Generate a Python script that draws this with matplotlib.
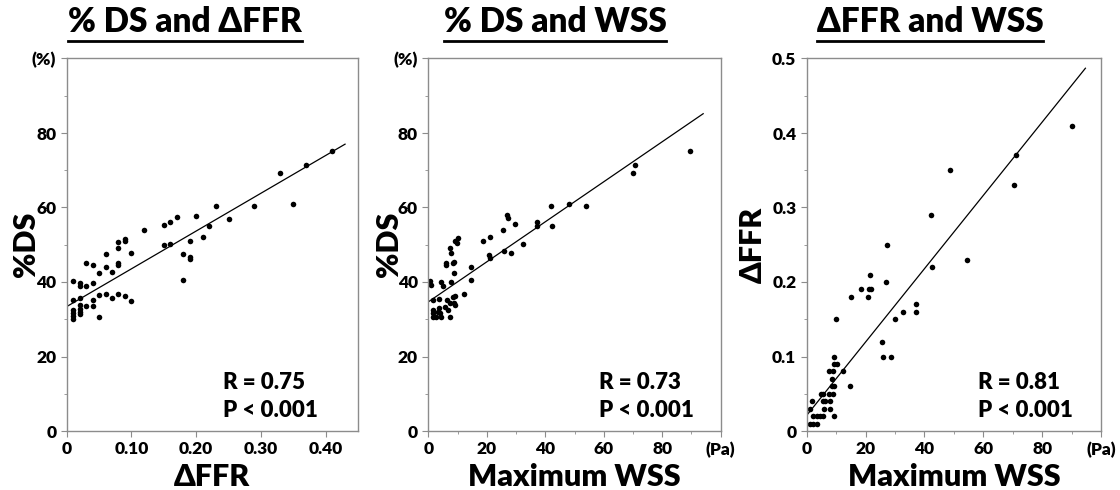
import matplotlib
matplotlib.use("Agg")
import matplotlib.pyplot as plt
from matplotlib.lines import Line2D
import numpy as np

plt.rcParams['font.family'] = ['Lato', 'DejaVu Sans']
plt.rcParams['font.weight'] = 'heavy'
plt.rcParams['axes.labelweight'] = 'heavy'

# panel 1: %DS vs dFFR
p1_dffr = [0.01, 0.01, 0.01, 0.01, 0.01, 0.01,
           0.02, 0.02, 0.02, 0.02, 0.02, 0.02, 0.02,
           0.03, 0.03, 0.03, 0.04, 0.04, 0.04, 0.04,
           0.05, 0.05, 0.05, 0.06, 0.06, 0.06, 0.07, 0.07,
           0.08, 0.08, 0.08, 0.08, 0.08, 0.09, 0.09, 0.09, 0.10, 0.10,
           0.12, 0.15, 0.15, 0.16, 0.16, 0.17, 0.18, 0.18,
           0.19, 0.19, 0.19, 0.20, 0.21, 0.22, 0.23, 0.25,
           0.29, 0.33, 0.35, 0.37, 0.41]
p1_ds = [40.3, 35.2, 32.4, 31.6, 30.8, 30.1,
         39.6, 39.0, 35.6, 33.8, 32.7, 31.9, 31.3,
         45.2, 38.8, 33.5, 44.6, 39.6, 35.3, 33.5,
         42.5, 36.5, 30.5, 47.5, 44.1, 36.8, 42.6, 35.6,
         50.8, 49.0, 45.2, 44.6, 36.8, 51.6, 51.0, 36.2, 47.9, 34.9,
         54.0, 55.4, 50.0, 56.0, 50.2, 57.4, 47.4, 40.5,
         51.0, 46.6, 46.1, 57.8, 52.0, 55.0, 60.3, 57.0,
         60.5, 69.2, 60.9, 71.5, 75.2]

# panel 2: %DS vs maximum WSS
p2_wss = [0.5, 1.0, 1.7, 3.5, 4.3, 5.1,
          1.7, 1.7, 1.7, 2.6, 3.2, 3.5, 4.0, 4.3,
          5.8, 6.0, 6.0, 6.2, 6.6, 7.5, 7.5, 7.7, 7.4, 7.7,
          8.3, 8.6, 8.6, 8.3, 8.6, 9.2, 9.2, 9.2, 10.0, 9.7,
          12.3, 14.6, 14.6, 18.5, 21.2, 20.8, 21.2,
          25.4, 25.7, 26.8, 27.2, 28.3, 29.7, 32.2,
          37.0, 37.0, 42.0, 42.3, 48.1, 54.0, 70.0, 70.6, 89.6]
p2_ds = [40.3, 39.2, 35.3, 35.4, 40.0, 38.9,
         32.5, 31.6, 30.5, 30.7, 32.0, 32.9, 31.6, 30.7,
         33.4, 45.2, 44.6, 35.3, 32.5, 34.4, 30.5, 40.1, 49.1, 47.7,
         45.0, 45.5, 42.5, 35.9, 34.4, 36.2, 33.8, 51.1, 51.7, 50.6,
         36.8, 43.9, 40.5, 51.1, 52.0, 47.3, 46.4,
         54.0, 48.2, 58.0, 57.1, 47.9, 55.5, 50.1,
         55.1, 56.1, 60.5, 54.9, 60.9, 60.3, 69.2, 71.5, 75.2]

# panel 3: dFFR vs maximum WSS
p3_wss = [48.6, 42.3, 42.7, 54.3, 70.5, 71.1, 90.1,
          27.4, 27.0, 21.6, 21.1, 21.8, 18.6, 20.8, 14.9,
          37.3, 37.3, 32.6, 30.0, 25.6, 25.9, 28.6, 9.9, 12.5, 14.8,
          9.4, 9.4, 10.2, 7.7, 9.1, 8.5, 8.5, 9.4, 7.7, 9.1,
          8.0, 8.0, 9.4, 5.7, 5.7, 6.1, 6.0, 4.8,
          3.4, 4.5, 5.7, 1.7, 1.1, 2.3, 1.1, 2.2, 3.6]
p3_dffr = [0.35, 0.29, 0.22, 0.23, 0.33, 0.37, 0.41,
           0.25, 0.20, 0.21, 0.19, 0.19, 0.19, 0.18, 0.18,
           0.17, 0.16, 0.16, 0.15, 0.12, 0.10, 0.10, 0.15, 0.08, 0.06,
           0.10, 0.09, 0.09, 0.08, 0.08, 0.07, 0.06, 0.06, 0.05, 0.05,
           0.04, 0.03, 0.02, 0.05, 0.04, 0.04, 0.03, 0.05,
           0.02, 0.02, 0.02, 0.04, 0.03, 0.02, 0.01, 0.01, 0.01]

# regression lines: intercept, slope, x end
fit1 = (33.4, 101.4, 0.43)
fit2 = (34.7, 0.537, 94.0)
fit3 = (0.021, 0.00492, 94.7)

titles = ['% DS and \u0394FFR', '% DS and WSS', '\u0394FFR and WSS']
xlabels = ['\u0394FFR', 'Maximum WSS', 'Maximum WSS']
ylabels = ['%DS', '%DS', '\u0394FFR']
stats = [('R = 0.75', 'P < 0.001'), ('R = 0.73', 'P < 0.001'), ('R = 0.81', 'P < 0.001')]

fig = plt.figure(figsize=(11.2, 4.9), dpi=100)
W, H = 1120, 490
boxes = [(66.7, 358.0), (428.5, 720.7), (806.7, 1101.0)]
top_px, bot_px = 58.5, 431.0
axes = []
for l, r in boxes:
    axes.append(fig.add_axes([l / W, 1 - bot_px / H, (r - l) / W, (bot_px - top_px) / H]))

datasets = [(p1_dffr, p1_ds, fit1), (p2_wss, p2_ds, fit2), (p3_wss, p3_dffr, fit3)]
stat_x = [0.537, 0.583, 0.582]
ypads = [-6, -7, 4]

for i, ax in enumerate(axes):
    xs, ys, (b0, b1, xend) = datasets[i]
    ax.plot(xs, ys, 'o', color='black', ms=4, mew=0)
    lx = np.array([0, xend])
    ax.plot(lx, b0 + b1 * lx, color='black', lw=0.9)
    for s in ax.spines.values():
        s.set_color('#8c8c8c')
        s.set_linewidth(1.0)
    ax.tick_params(which='both', color='#8c8c8c', direction='out', labelsize=12.5)
    ax.tick_params(which='major', length=4)
    ax.tick_params(which='minor', length=2)
    ax.set_xlabel(xlabels[i], fontsize=22, labelpad=4)
    ax.set_ylabel(ylabels[i], fontsize=22, labelpad=ypads[i])
    ax.text(stat_x[i], 0.129, stats[i][0], transform=ax.transAxes, fontsize=16,
            ha='left', va='center')
    ax.text(stat_x[i], 0.054, stats[i][1], transform=ax.transAxes, fontsize=16,
            ha='left', va='center')

# panel 1 axes
axes[0].set_xlim(0, 0.45)
axes[0].set_xticks([0, 0.1, 0.2, 0.3, 0.4])
axes[0].set_xticklabels(['0', '0.10', '0.20', '0.30', '0.40'])
for ax in axes[:2]:
    ax.set_ylim(0, 100)
    ax.set_yticks([0, 20, 40, 60, 80, 100])
    ax.set_yticklabels(['0', '20', '40', '60', '80', '(%)'])
    ax.set_yticks(np.arange(10, 100, 20), minor=True)
for ax in axes[1:]:
    ax.set_xlim(0, 100)
    ax.set_xticks([0, 20, 40, 60, 80, 100])
    ax.set_xticklabels(['0', '20', '40', '60', '80', '(Pa)'])
    ax.set_xticks(np.arange(10, 100, 20), minor=True)
axes[2].set_ylim(0, 0.5)
axes[2].set_yticks([0, 0.1, 0.2, 0.3, 0.4, 0.5])
axes[2].set_yticklabels(['0', '0.1', '0.2', '0.3', '0.4', '0.5'])
axes[2].set_yticks(np.arange(0.05, 0.5, 0.1), minor=True)

# underlined titles
title_cx = [185, 555, 930]
ttexts = []
for t, cx in zip(titles, title_cx):
    ttexts.append(fig.text(cx / W, 1 - 22 / H, t, fontsize=24,
                           ha='center', va='center'))
fig.canvas.draw()
for tt in ttexts:
    bb = tt.get_window_extent()
    y = 1 - 41 / H
    fig.add_artist(Line2D([bb.x0 / W, bb.x1 / W], [y, y], color='black', lw=2.0))

fig.savefig('out.png', dpi=100)
